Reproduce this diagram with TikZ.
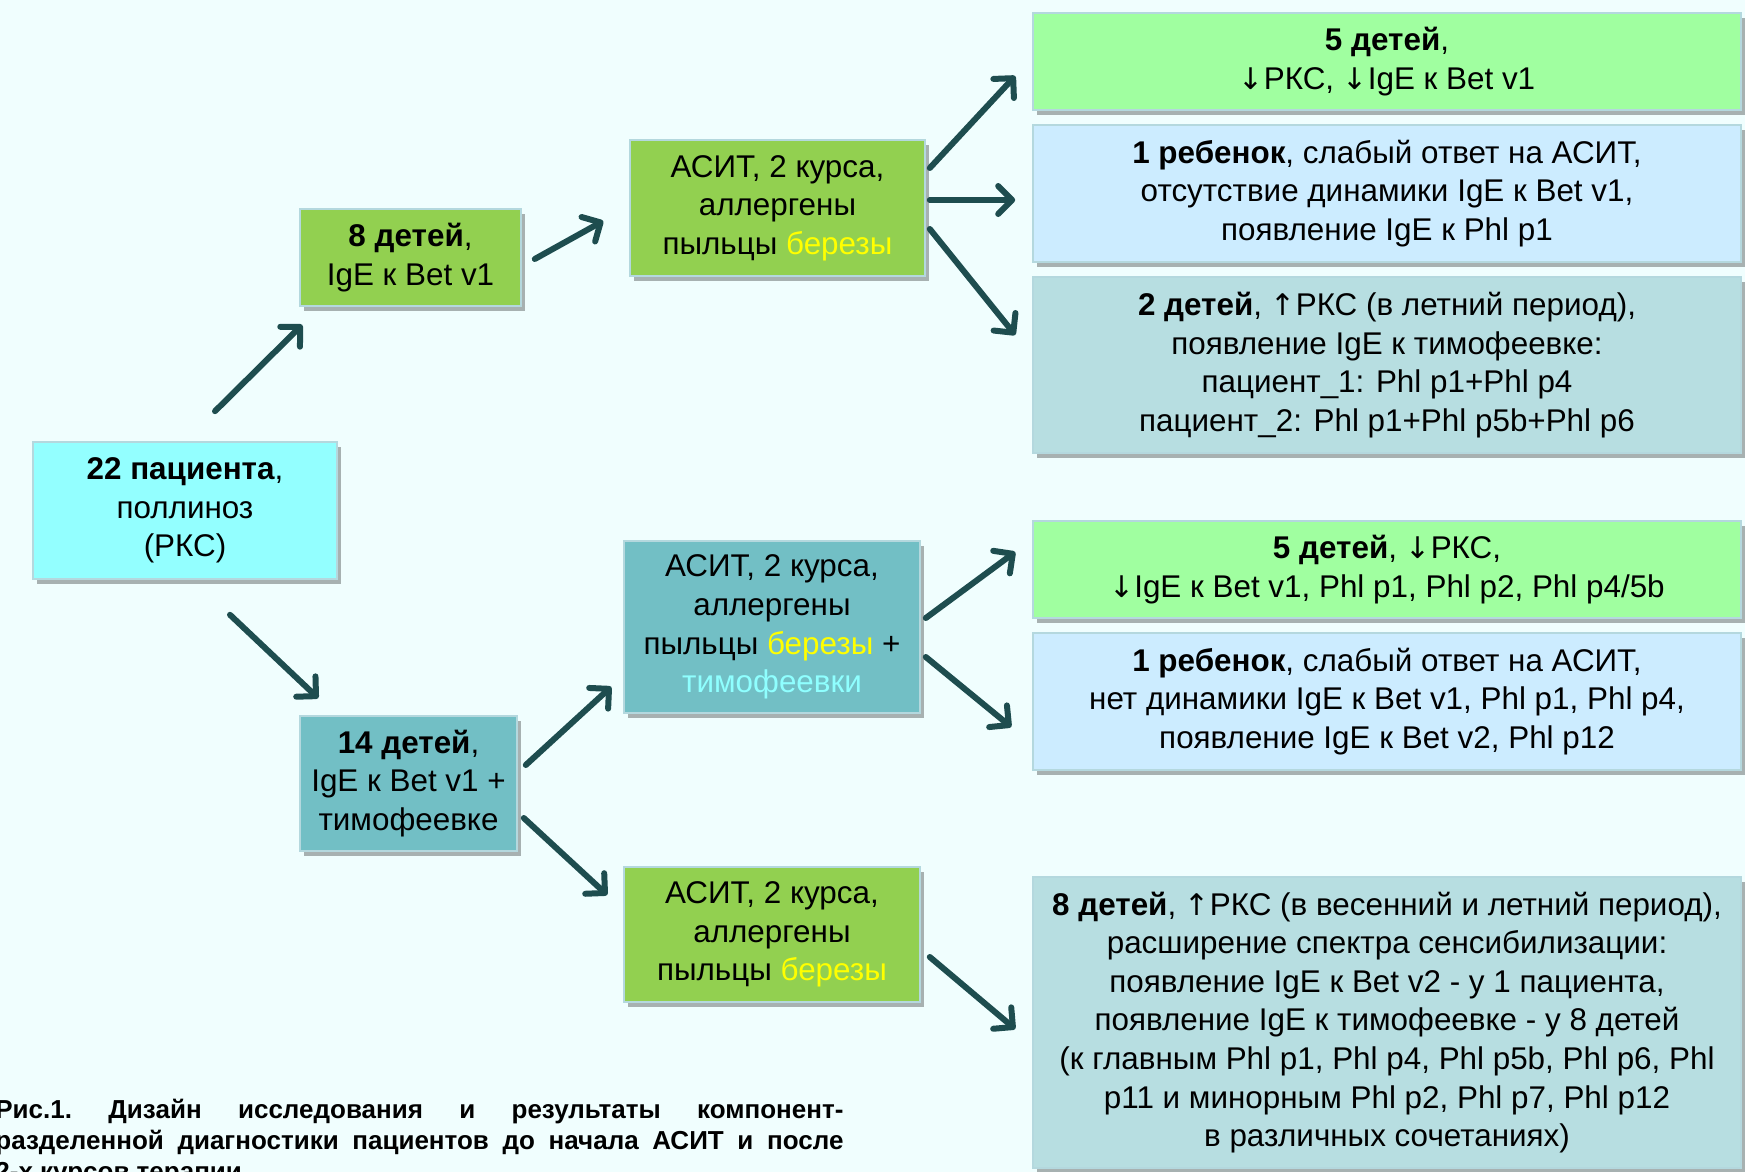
\documentclass[tikz,border=0pt]{standalone}
\usepackage{fontspec}
\setmainfont{Liberation Sans}
\newfontfamily\arrowfont[Scale=0.95]{DejaVu Sans}
\newcommand\dnar{{\arrowfont ↓}}
\newcommand\upar{{\arrowfont ↑}}
\usetikzlibrary{arrows.meta,shadows}
\definecolor{bgcol}{HTML}{F0FEFE}
\definecolor{boxline}{HTML}{B4D8DE}
\definecolor{arrowcol}{HTML}{1E4D4F}
\definecolor{cyanfill}{HTML}{93FFFF}
\definecolor{greenfill}{HTML}{92D050}
\definecolor{tealfill}{HTML}{72BFC5}
\definecolor{lgreen}{HTML}{A0FFA0}
\definecolor{lblue}{HTML}{CCECFF}
\definecolor{lteal}{HTML}{B7DEE1}
\definecolor{birch}{HTML}{FFFF00}
\definecolor{timothy}{HTML}{8FFFFF}

\begin{document}
\begin{tikzpicture}[x=0.5pt,y=-0.5pt,
  box/.style={draw=boxline, line width=0.8pt, align=center, inner sep=0pt,
    font=\fontsize{15.7}{19.3}\selectfont,
    drop shadow={shadow xshift=2pt, shadow yshift=-2.5pt, fill=black, opacity=0.3}},
  arr/.style={draw=arrowcol, line width=3pt, line cap=round,
    -{Straight Barb[length=7pt,width=14pt,line join=round,line cap=round]}}]
   \useasboundingbox (0,0) rectangle (1745,1172);
   \clip (0,0) rectangle (1745,1172);
   \fill[bgcol] (0,0) rectangle (1745,1172);

   % left column
   \node[box, fill=cyanfill, minimum width=152pt, minimum height=68.5pt] (pat) at (185,510.5)
     {\textbf{22 пациента},\\ поллиноз\\ (РКС)};
   \node[box, fill=greenfill, minimum width=110.5pt, minimum height=48.5pt] (bet8) at (410.5,257.5)
     {\textbf{8 детей},\\ IgE к Bet v1};
   \node[box, fill=tealfill, minimum width=108.5pt, minimum height=67.5pt] (bet14) at (408.5,783.5)
     {\textbf{14 детей},\\ IgE к Bet v1 +\\ тимофеевке};

   % therapy
   \node[box, fill=greenfill, minimum width=147.5pt, minimum height=68pt] (asitA) at (777.5,208)
     {АСИТ, 2 курса,\\ аллергены\\ пыльцы \textcolor{birch}{березы}};
   \node[box, fill=tealfill, minimum width=148pt, minimum height=86pt] (asitB) at (772,627)
     {АСИТ, 2 курса,\\ аллергены\\ пыльцы \textcolor{birch}{березы} +\\ \textcolor{timothy}{тимофеевки}};
   \node[box, fill=greenfill, minimum width=148pt, minimum height=67.5pt] (asitC) at (772,934.5)
     {АСИТ, 2 курса,\\ аллергены\\ пыльцы \textcolor{birch}{березы}};

   % results
   \node[box, fill=lgreen, minimum width=354pt, minimum height=48.5pt] (res1) at (1387,61.5)
     {\textbf{5 детей},\\ \dnar РКС, \dnar IgE к Bet v1};
   \node[box, fill=lblue, minimum width=354pt, minimum height=68.5pt] (res2) at (1387,193.5)
     {\textbf{1 ребенок}, слабый ответ на АСИТ,\\ отсутствие динамики IgE к Bet v1,\\ появление IgE к Phl p1};
   \node[box, fill=lteal, minimum width=354pt, minimum height=88pt] (res3) at (1387,365)
     {\textbf{2 детей}, \upar РКС (в летний период),\\ появление IgE к тимофеевке:\\ пациент\_1: Phl p1+Phl p4\\ пациент\_2: Phl p1+Phl p5b+Phl p6};
   \node[box, fill=lgreen, minimum width=354pt, minimum height=48.5pt] (res4) at (1387,569.5)
     {\textbf{5 детей}, \dnar РКС,\\ \dnar IgE к Bet v1, Phl p1, Phl p2, Phl p4/5b};
   \node[box, fill=lblue, minimum width=354pt, minimum height=68.5pt] (res5) at (1387,701.5)
     {\textbf{1 ребенок}, слабый ответ на АСИТ,\\ нет динамики IgE к Bet v1, Phl p1, Phl p4,\\ появление IgE к Bet v2, Phl p12};
   \node[box, fill=lteal, minimum width=354pt, minimum height=145.5pt] (res6) at (1387,1022.5)
     {\textbf{8 детей}, \upar РКС (в весенний и летний период),\\ расширение спектра сенсибилизации:\\
      появление IgE к Bet v2 - у 1 пациента,\\ появление IgE к тимофеевке - у 8 детей\\
      (к главным Phl p1, Phl p4, Phl p5b, Phl p6, Phl\\ p11 и минорным Phl p2, Phl p7, Phl p12\\
      в различных сочетаниях)};

   % arrows
   \draw[arr] ([shift={(30,-30)}]pat.north) -- ([shift={(3,18)}]bet8.south west);
   \draw[arr] ([shift={(45,35)}]pat.south) -- ([shift={(19,-17)}]bet14.north west);
   \draw[arr] ([shift={(13,1.5)}]bet8.east) -- ([shift={(-26,13)}]asitA.west);
   \draw[arr] ([shift={(8,-18.5)}]bet14.east) -- ([shift={(-12,-27)}]asitB.south west);
   \draw[arr] ([shift={(6,34.5)}]bet14.east) -- ([shift={(-16,-39.5)}]asitC.west);
   \draw[arr] ([shift={(4,-40)}]asitA.east) -- ([shift={(-17,14.5)}]res1.west);
   \draw[arr] ([shift={(4,-8)}]asitA.east) -- ([shift={(-17,6.5)}]res2.west);
   \draw[arr] ([shift={(4,21)}]asitA.east) -- ([shift={(-17,-30)}]res3.west);
   \draw[arr] ([shift={(5,-9)}]asitB.east) -- ([shift={(-17,-17.5)}]res4.west);
   \draw[arr] ([shift={(5,30)}]asitB.east) -- ([shift={(-21,25.5)}]res5.west);
   \draw[arr] ([shift={(9,22.5)}]asitC.east) -- ([shift={(-17,6.5)}]res6.west);

   % caption
   \node[anchor=base west, inner sep=0pt] (caption) at (-5,1118)
     {\parbox[t]{424pt}{\frenchspacing\fontsize{13}{15.5}\selectfont\bfseries
      Рис.1. Дизайн исследования и результаты компонент-\linebreak
      разделенной диагностики пациентов до начала АСИТ и после\linebreak
      2-х курсов терапии}};
\end{tikzpicture}
\end{document}
